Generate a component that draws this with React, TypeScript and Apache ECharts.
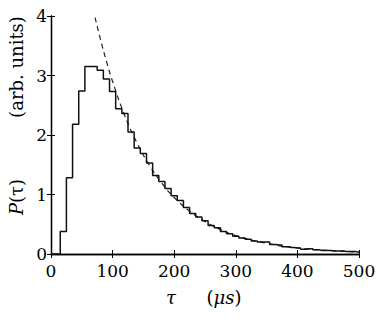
import React, { useEffect, useRef } from "react";
import * as echarts from "echarts";

const binCenters = [0, 10, 20, 30, 40, 50, 60, 70, 80, 90, 100, 110, 120, 130, 140, 150, 160, 170, 180, 190, 200, 210, 220, 230, 240, 250, 260, 270, 280, 290, 300, 310, 320, 330, 340, 350, 360, 370, 380, 390, 400, 410, 420, 430, 440, 450, 460, 470, 480, 490, 500];
const histValues = [0, 0, 0.38, 1.28, 2.18, 2.74, 3.15, 3.15, 3.09, 2.94, 2.73, 2.44, 2.36, 2.05, 1.78, 1.69, 1.53, 1.32, 1.22, 1.10, 0.98, 0.90, 0.78, 0.68, 0.62, 0.56, 0.48, 0.44, 0.38, 0.34, 0.30, 0.27, 0.25, 0.22, 0.20, 0.20, 0.16, 0.15, 0.12, 0.11, 0.10, 0.08, 0.09, 0.07, 0.06, 0.06, 0.05, 0.05, 0.04, 0.04, 0.03];

const fitX = [65, 70, 80, 90, 100, 120, 140, 160, 180, 200, 225, 250, 275, 300, 350, 400, 450, 500];
const fitY = [4.27, 4.04, 3.62, 3.24, 2.9, 2.32, 1.86, 1.49, 1.19, 0.95, 0.72, 0.545, 0.41, 0.31, 0.18, 0.103, 0.059, 0.034];

const xTicks = [0, 100, 200, 300, 400, 500];
const yTicks = [0, 1, 2, 3, 4];

const FONT = "DejaVu Serif";

export default function App() {
  const ref = useRef<HTMLDivElement>(null);
  useEffect(() => {
    const chart = echarts.init(ref.current!, null, { renderer: "svg" });
    const axisLine = { show: true, lineStyle: { color: "#000", width: 1.3 } };
    const tickStyle = { show: true, inside: true, length: 4, lineStyle: { color: "#000", width: 1 } };
    const nameStyle = (text: string) => ({
      text,
      fontFamily: FONT,
      fontSize: 18,
      fill: "#000",
      align: "center",
      verticalAlign: "middle",
      rich: {
        i: { fontStyle: "italic", fontFamily: FONT, fontSize: 18 },
      },
    });
    chart.setOption({
      animation: false,
      backgroundColor: "#fff",
      textStyle: { fontFamily: FONT },
      grid: { left: 51, right: 23, top: 16, bottom: 65 },
      xAxis: [
        {
          type: "value",
          min: 0,
          max: 500,
          interval: 100,
          axisLine,
          axisTick: tickStyle,
          splitLine: { show: false },
          axisLabel: {
            color: "#000",
            fontFamily: FONT,
            fontSize: 17,
            margin: 8,
            formatter: (v: number) => (xTicks.includes(v) ? String(v) : ""),
          },
        },
        {
          type: "value",
          position: "top",
          min: 0,
          max: 500,
          interval: 100,
          axisLine,
          axisTick: tickStyle,
          splitLine: { show: false },
          axisLabel: { show: false },
        },
      ],
      yAxis: [
        {
          type: "value",
          min: 0,
          max: 4,
          interval: 1,
          axisLine,
          axisTick: tickStyle,
          splitLine: { show: false },
          axisLabel: {
            color: "#000",
            fontFamily: FONT,
            fontSize: 17,
            margin: 4,
            formatter: (v: number) => (yTicks.includes(v) ? String(v) : ""),
          },
        },
        {
          type: "value",
          position: "right",
          min: 0,
          max: 4,
          interval: 1,
          axisLine,
          axisTick: tickStyle,
          splitLine: { show: false },
          axisLabel: { show: false },
        },
      ],
      series: [
        {
          type: "line",
          step: "middle",
          data: binCenters.map((x, i) => [x, histValues[i]]),
          symbol: "none",
          lineStyle: { color: "#111", width: 1.5 },
          clip: true,
          z: 3,
        },
        {
          type: "line",
          smooth: true,
          data: fitX.map((x, i) => [x, fitY[i]]),
          symbol: "none",
          lineStyle: { color: "#222", width: 1.2, type: [5, 4] },
          clip: true,
          z: 2,
        },
      ],
      graphic: [
        { type: "text", x: 171, y: 297, style: nameStyle("{i|τ}") },
        { type: "text", x: 224, y: 297, style: nameStyle("({i|μs})") },
        { type: "text", x: 16, y: 67, rotation: Math.PI / 2, style: nameStyle("(arb. units)") },
        { type: "text", x: 16, y: 197, rotation: Math.PI / 2, style: nameStyle("{i|P}(τ)") },
      ],
    });
    return () => chart.dispose();
  }, []);
  return (
    <div
      ref={ref}
      style={{ position: "absolute", left: 0, top: 0, width: 382, height: 319, background: "#fff" }}
    />
  );
}
